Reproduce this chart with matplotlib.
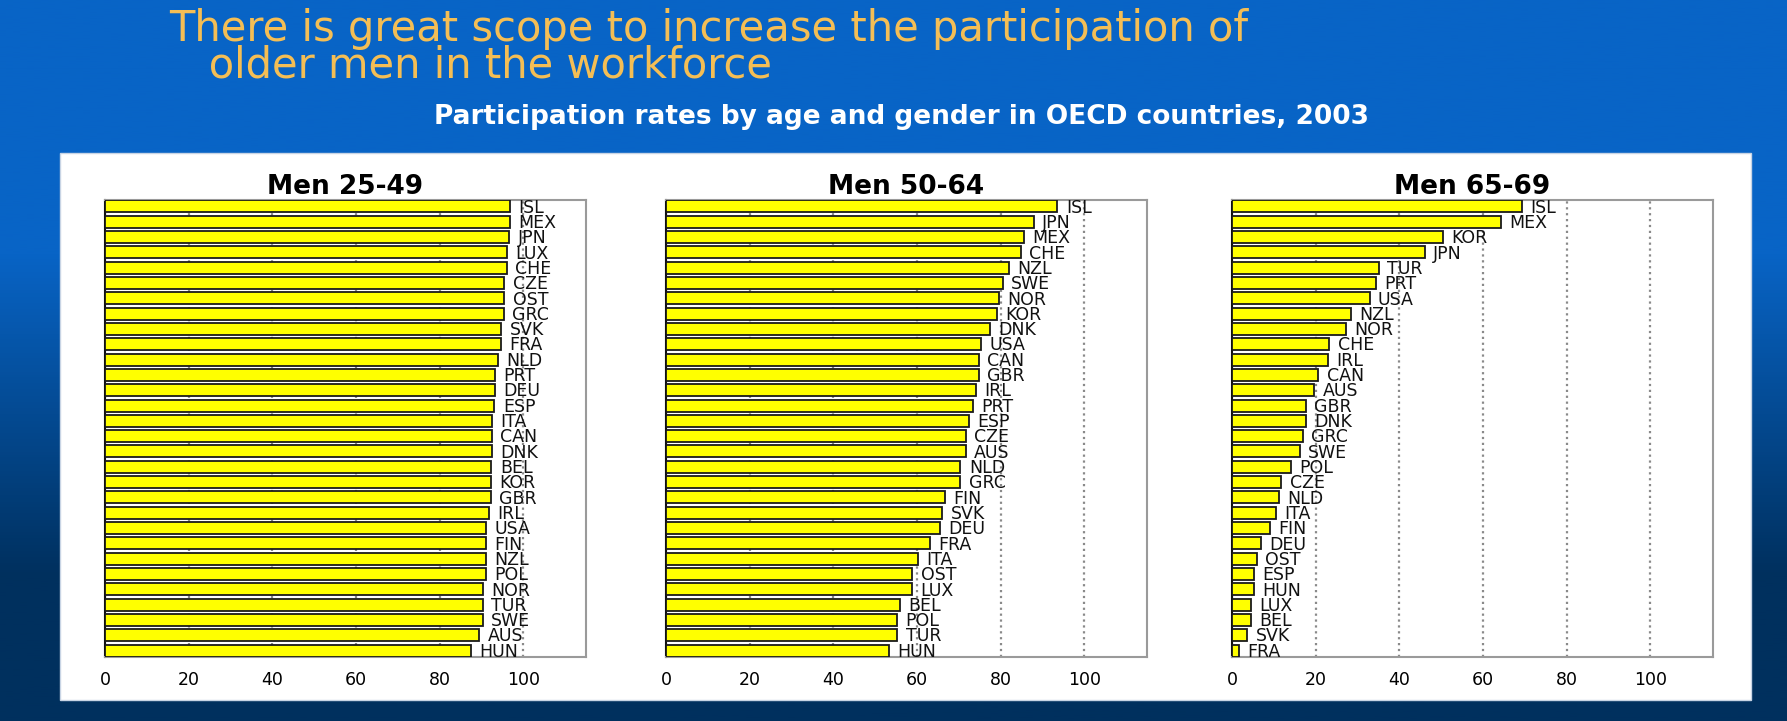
import numpy as np
import matplotlib
matplotlib.use('Agg')
import matplotlib.pyplot as plt
from matplotlib.patches import Rectangle
from matplotlib.colors import LinearSegmentedColormap

# --- data (participation rate, %) ---
codes_25_49 = ['ISL', 'MEX', 'JPN', 'LUX', 'CHE', 'CZE', 'OST', 'GRC', 'SVK', 'FRA',
               'NLD', 'PRT', 'DEU', 'ESP', 'ITA', 'CAN', 'DNK', 'BEL', 'KOR', 'GBR',
               'IRL', 'USA', 'FIN', 'NZL', 'POL', 'NOR', 'TUR', 'SWE', 'AUS', 'HUN']
rates_25_49 = [96.9, 96.8, 96.7, 96.1, 96.0, 95.5, 95.5, 95.4, 94.7, 94.6,
               94.0, 93.3, 93.3, 93.1, 92.5, 92.5, 92.5, 92.4, 92.3, 92.3,
               91.7, 91.2, 91.1, 91.1, 91.1, 90.3, 90.3, 90.3, 89.5, 87.5]

codes_50_64 = ['ISL', 'JPN', 'MEX', 'CHE', 'NZL', 'SWE', 'NOR', 'KOR', 'DNK', 'USA',
               'CAN', 'GBR', 'IRL', 'PRT', 'ESP', 'CZE', 'AUS', 'NLD', 'GRC', 'FIN',
               'SVK', 'DEU', 'FRA', 'ITA', 'OST', 'LUX', 'BEL', 'POL', 'TUR', 'HUN']
rates_50_64 = [93.6, 87.9, 85.6, 84.9, 81.9, 80.5, 79.7, 79.1, 77.5, 75.4,
               74.8, 74.8, 74.0, 73.3, 72.5, 71.7, 71.7, 70.4, 70.4, 66.7,
               66.0, 65.4, 63.1, 60.3, 58.9, 58.9, 55.9, 55.3, 55.3, 53.2]

codes_65_69 = ['ISL', 'MEX', 'KOR', 'JPN', 'TUR', 'PRT', 'USA', 'NZL', 'NOR', 'CHE',
               'IRL', 'CAN', 'AUS', 'GBR', 'DNK', 'GRC', 'SWE', 'POL', 'CZE', 'NLD',
               'ITA', 'FIN', 'DEU', 'OST', 'ESP', 'HUN', 'LUX', 'BEL', 'SVK', 'FRA']
rates_65_69 = [69.4, 64.2, 50.5, 46.1, 35.1, 34.4, 32.9, 28.5, 27.3, 23.3,
               22.9, 20.6, 19.7, 17.7, 17.7, 16.9, 16.2, 14.1, 11.8, 11.3,
               10.5, 9.0, 6.9, 6.0, 5.2, 5.2, 4.6, 4.6, 3.6, 1.6]

panel_titles = ['Men 25-49', 'Men 50-64', 'Men 65-69']
x_ticks = [0, 20, 40, 60, 80, 100]

TITLE = 'There is great scope to increase the participation of\n   older men in the workforce'
SUBTITLE = 'Participation rates by age and gender in OECD countries, 2003'

W, H = 1787, 721
fig = plt.figure(figsize=(W / 100, H / 100), dpi=100)

# slide background: blue fading to navy
bg = fig.add_axes([0, 0, 1, 1], zorder=-10)
rows = np.linspace(0, 1, 300).reshape(-1, 1)
grad = np.clip((rows - 0.35) / 0.45, 0, 1)
cmap = LinearSegmentedColormap.from_list('slide', ['#0864C6', '#00305E'])
bg.imshow(grad, aspect='auto', cmap=cmap, extent=[0, 1, 0, 1], origin='upper')
bg.set_xlim(0, 1)
bg.set_ylim(0, 1)
bg.axis('off')

# white chart card
fig.patches.append(Rectangle((60 / W, 1 - 700 / H), (1751 - 60) / W, (700 - 153) / H,
                             transform=fig.transFigure, facecolor='white',
                             edgecolor='#c8d4e4', linewidth=1, zorder=-5))

fig.text(169 / W, 1 - 8 / H, TITLE, color='#F4BE55', fontsize=30,
         ha='left', va='top', linespacing=0.82)
fig.text(901 / W, 1 - 117 / H, SUBTITLE, color='white', fontsize=19,
         fontweight='bold', ha='center', va='center')

panels = [(codes_25_49, rates_25_49), (codes_50_64, rates_50_64), (codes_65_69, rates_65_69)]
lefts = [105, 666, 1232]

for (codes, rates), left, title in zip(panels, lefts, panel_titles):
    ax = fig.add_axes([left / W, 1 - 657 / H, 481 / W, 457 / H])
    ax.set_facecolor('white')
    pos = np.arange(len(codes))
    ax.barh(pos, rates, height=0.78, color='#FFFF00', edgecolor='#1a1a1a',
            linewidth=1.3, zorder=3)
    for p, v, c in zip(pos, rates, codes):
        ax.text(v + 2.0, p + 0.08, c, ha='left', va='center', fontsize=12.5,
                color='#111111', zorder=4)
    ax.set_xlim(0, 115)
    ax.set_ylim(len(codes) - 0.58, -0.42)
    ax.set_yticks([])
    ax.set_xticks(x_ticks)
    ax.set_xticklabels([str(t) for t in x_ticks], fontsize=12.5)
    ax.tick_params(axis='x', length=0, pad=10)
    ax.xaxis.grid(True, linestyle=':', color='#8a8a8a', linewidth=1.6)
    ax.set_axisbelow(True)
    for s in ['top', 'bottom', 'right']:
        ax.spines[s].set_color('#9a9a9a')
        ax.spines[s].set_linewidth(1.5)
    ax.spines['left'].set_color('#111111')
    ax.spines['left'].set_linewidth(1.5)
    ax.set_title(title, fontsize=19, fontweight='bold', pad=3)

fig.savefig('out.png', dpi=100)
